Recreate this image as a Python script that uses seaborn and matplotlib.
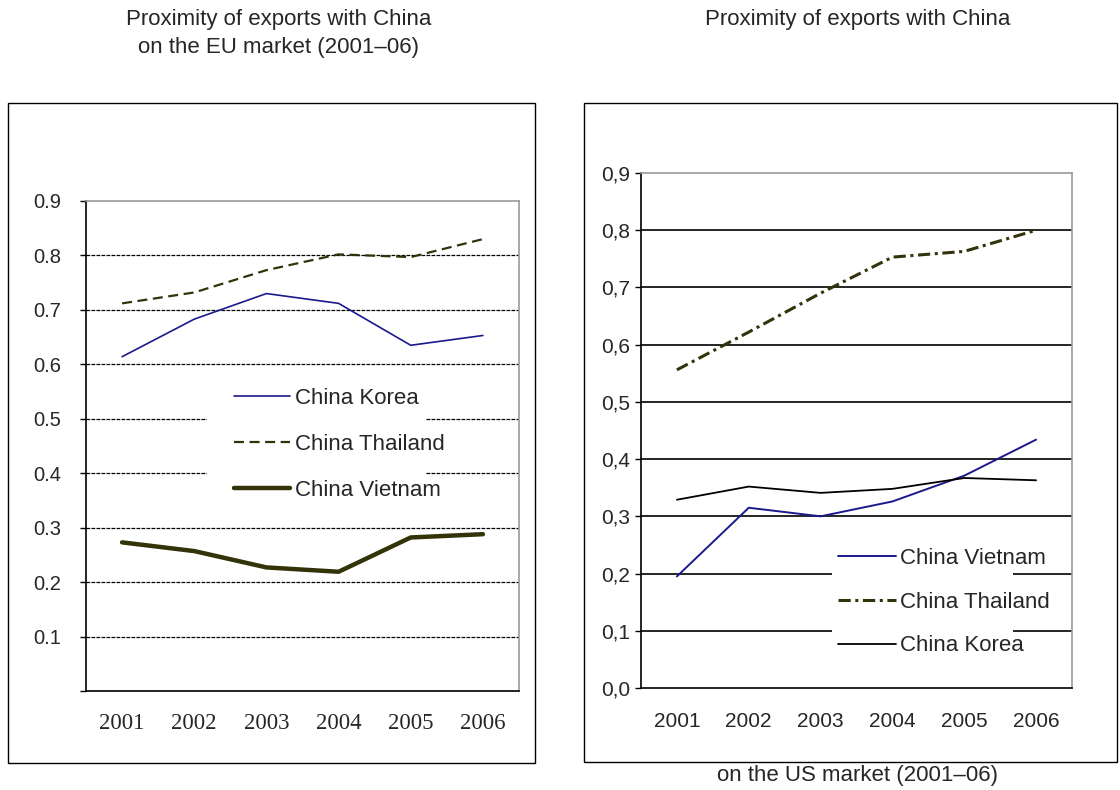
import numpy as np
import pandas as pd
import matplotlib
matplotlib.use("Agg")
import matplotlib.pyplot as plt
from matplotlib.patches import Rectangle
import seaborn as sns

# --- data ---
years = ["2001", "2002", "2003", "2004", "2005", "2006"]

eu_korea = [0.614, 0.683, 0.730, 0.712, 0.635, 0.653]
eu_thailand = [0.712, 0.732, 0.773, 0.802, 0.797, 0.830]
eu_vietnam = [0.273, 0.257, 0.227, 0.219, 0.282, 0.288]

us_vietnam = [0.195, 0.315, 0.300, 0.326, 0.371, 0.434]
us_thailand = [0.556, 0.622, 0.690, 0.753, 0.763, 0.800]
us_korea = [0.329, 0.352, 0.341, 0.348, 0.367, 0.363]

eu_yticks = [0.0, 0.1, 0.2, 0.3, 0.4, 0.5, 0.6, 0.7, 0.8, 0.9]
eu_ylabels = ["", "0.1", "0.2", "0.3", "0.4", "0.5", "0.6", "0.7", "0.8", "0.9"]
us_ylabels = ["0,0", "0,1", "0,2", "0,3", "0,4", "0,5", "0,6", "0,7", "0,8", "0,9"]

sns.set_style("white")
plt.rcParams['font.family'] = ['Liberation Sans', 'DejaVu Sans']

BLUE = "#1a1a8c"
OLIVE = "#33330a"
W, H = 1120, 790

fig = plt.figure(figsize=(11.2, 7.9), dpi=100)


def fig_box(x0, y0, x1, y1):
    # pixel box (top-left origin) -> figure-fraction rectangle args
    return (x0 / W, 1 - y1 / H), (x1 - x0) / W, (y1 - y0) / H


# outer panel frames
xy, w, h = fig_box(8, 103, 535, 763)
fig.add_artist(Rectangle(xy, w, h, transform=fig.transFigure, fill=False, ec="black", lw=1.0))
xy, w, h = fig_box(584, 103, 1117, 762)
fig.add_artist(Rectangle(xy, w, h, transform=fig.transFigure, fill=False, ec="black", lw=1.0))

fig.text(0.249, 1 - 9 / H, "Proximity of exports with China\non the EU market (2001\u201306)",
         ha="center", va="top", fontsize=16, linespacing=1.45)
fig.text(0.766, 1 - 9 / H, "Proximity of exports with China",
         ha="center", va="top", fontsize=16)
fig.text(0.766, 1 - 775 / H, "on the US market (2001\u201306)",
         ha="center", va="center", fontsize=16)

pos = np.arange(len(years))


def style_axis(ax, ylabels, grid_style, grid_lw, xfont, xsize, xpad, ypad, ysize):
    ax.set_xlim(-0.5, len(years) - 0.5)
    ax.set_ylim(0, 0.9)
    ax.set_yticks(eu_yticks)
    ax.set_yticklabels(ylabels, fontsize=ysize)
    ax.set_xticks(pos)
    ax.set_xticklabels(years, fontsize=xsize, family=xfont)
    ax.set_xticks(np.arange(len(years) + 1) - 0.5, minor=True)
    ax.tick_params(axis="x", which="major", length=0, pad=xpad)
    ax.tick_params(axis="x", which="minor", length=6, width=1, color="black", direction="out")
    ax.tick_params(axis="y", length=4, width=1, color="black", direction="out", pad=ypad, left=True)
    for y in eu_yticks[1:-1]:
        ax.axhline(y, color="black", lw=grid_lw, ls=grid_style, zorder=0)
    ax.spines["left"].set_color("black")
    ax.spines["bottom"].set_color("black")
    ax.spines["top"].set_color("#999999")
    ax.spines["right"].set_color("#999999")
    for s in ax.spines.values():
        s.set_linewidth(1.2)
    ax.set_xlabel("")
    ax.set_ylabel("")


# --- EU panel ---
ax1 = fig.add_axes([86 / W, 1 - 691 / H, 433 / W, 490 / H])
sns.lineplot(x=pos, y=eu_korea, ax=ax1, color=BLUE, lw=1.2, label="China Korea")
sns.lineplot(x=pos, y=eu_thailand, ax=ax1, color=OLIVE, lw=1.6, label="China Thailand")
ax1.lines[-1].set_dashes((4.5, 2.5))
sns.lineplot(x=pos, y=eu_vietnam, ax=ax1, color=OLIVE, lw=3.2, label="China Vietnam")
style_axis(ax1, eu_ylabels, (0, (3, 1)), 0.9, ["Liberation Serif"], 16.5, 16, 14, 14.5)
xy, w, h = fig_box(207, 378, 426, 505)
ax1.add_patch(Rectangle(xy, w, h, transform=fig.transFigure, fc="white", ec="none", zorder=1))
ax1.legend(loc="upper left", bbox_to_anchor=(234 / W, 1 - 388 / H),
           bbox_transform=fig.transFigure, fontsize=16, handlelength=2.5,
           handletextpad=0.25, labelspacing=1.12, borderpad=0, borderaxespad=0,
           frameon=False)

# --- US panel ---
ax2 = fig.add_axes([641 / W, 1 - 688 / H, 431 / W, 515 / H])
sns.lineplot(x=pos, y=us_vietnam, ax=ax2, color=BLUE, lw=1.4, label="China Vietnam")
sns.lineplot(x=pos, y=us_thailand, ax=ax2, color=OLIVE, lw=2.2, label="China Thailand")
ax2.lines[-1].set_dashes((4, 1.5, 1, 1.5))
sns.lineplot(x=pos, y=us_korea, ax=ax2, color="black", lw=1.3, label="China Korea")
style_axis(ax2, us_ylabels, "-", 1.2, ["Liberation Sans"], 15, 17, 4, 15)
xy, w, h = fig_box(832, 535, 1013, 662)
ax2.add_patch(Rectangle(xy, w, h, transform=fig.transFigure, fc="white", ec="none", zorder=1))
ax2.legend(loc="upper left", bbox_to_anchor=(838 / W, 1 - 548 / H),
           bbox_transform=fig.transFigure, fontsize=16, handlelength=2.6,
           handletextpad=0.2, labelspacing=1.02, borderpad=0, borderaxespad=0,
           frameon=False)

plt.savefig("out.png", dpi=100)
